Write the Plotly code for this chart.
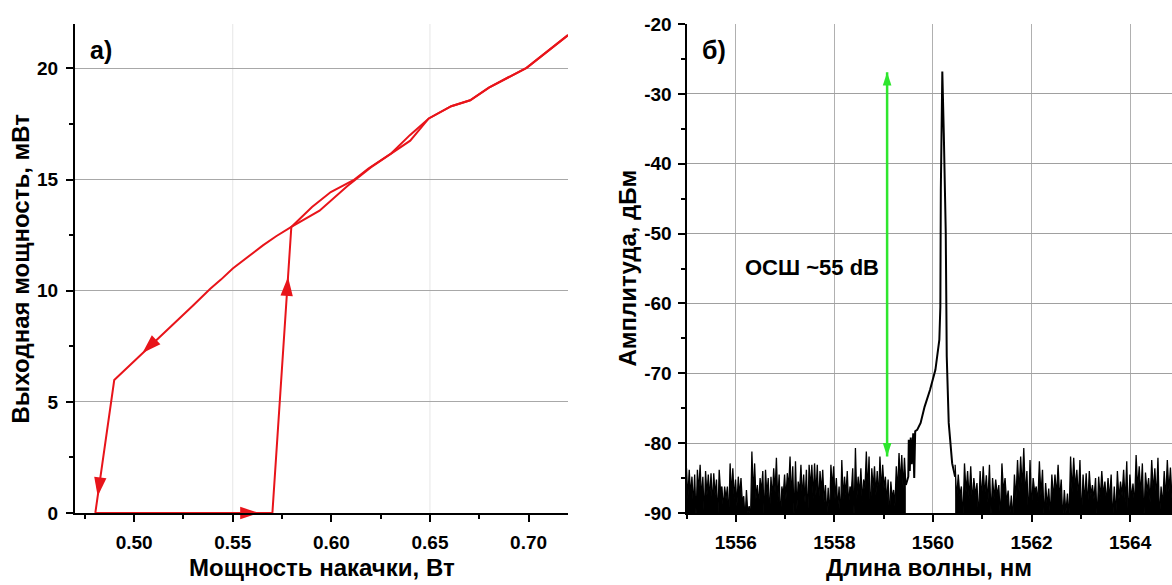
import plotly.graph_objects as go

W, H = 1172, 585

# ---------------- Panel a) : hysteresis ----------------
pump_fwd = [0.4803, 0.5701, 0.5797, 0.5902, 0.5997, 0.6112, 0.6188, 0.6303, 0.6398,
            0.6494, 0.6608, 0.6704, 0.6799, 0.6990, 0.7200]
out_fwd = [0.0, 0.0, 12.87, 13.77, 14.44, 14.97, 15.50, 16.17, 17.00,
           17.75, 18.30, 18.57, 19.14, 20.03, 21.50]

pump_ret = [0.7200, 0.6990, 0.6799, 0.6704, 0.6608, 0.6494, 0.6400, 0.6310, 0.6200,
            0.6080, 0.5940, 0.5797, 0.5720, 0.5653, 0.5580, 0.5500, 0.5440, 0.5386,
            0.5300, 0.5200, 0.5099, 0.5020, 0.4899, 0.4803]
out_ret = [21.50, 20.03, 19.14, 18.57, 18.30, 17.75, 16.75, 16.20, 15.55,
           14.70, 13.60, 12.87, 12.45, 12.04, 11.55, 11.00, 10.50, 10.09,
           9.35, 8.50, 7.66, 7.00, 5.98, 0.0]

arrow_x = [0.5634, 0.5780, 0.5042, 0.4815]
arrow_y = [0.0, 10.62, 7.20, 0.75]
arrow_angle = [90, 4, 226, 188]

y1_ticks = [0, 5, 10, 15, 20]
y1_labels = ["0", "5", "10", "15", "20"]

# ---------------- Panel б) : spectrum ----------------
noise_left_range = [1555.0, 1559.45]
noise_left_high = [-83.6, -83.8, -84.8, -84.5, -83.8, -83.1, -84.8, -84.0, -84.5, -84.3,
                   -84.3, -85.2, -83.8, -86.2, -86.2, -86.2, -82.9, -83.6, -85.2, -84.8,
                   -85.0, -87.6, -86.7, -89.0, -81.2, -82.9, -86.0, -85.0, -84.0, -83.8,
                   -85.0, -84.8, -83.6, -82.1, -84.5, -86.2, -84.5, -84.3, -81.9, -83.3,
                   -82.6, -85.5, -83.1, -84.5, -83.8, -83.1, -83.1, -82.9, -83.1, -84.0,
                   -83.8, -86.0, -86.4, -83.1, -83.3, -85.0, -86.2, -82.4, -84.8, -84.0,
                   -86.2, -83.6, -80.7, -84.8, -83.6, -85.2, -81.2, -81.9, -83.6, -83.3,
                   -84.0, -81.9, -83.1, -84.8, -85.2, -85.5, -86.7, -83.3, -81.4, -81.7,
                   -82.1]
noise_left_low = [-88.0, -87.5, -89.0, -91.0, -87.0, -88.0, -90.5, -87.5, -88.0, -89.0,
                  -87.5, -91.0, -87.0, -89.5, -88.0, -91.0, -87.5, -88.0, -89.0, -87.5,
                  -88.5, -91.0, -90.0, -91.0, -87.5, -88.0, -89.0, -87.0, -91.0, -87.5,
                  -90.5, -88.0, -87.0, -88.5, -91.0, -87.5, -88.0, -86.5, -88.0, -91.0,
                  -89.5, -87.0, -88.0, -88.5, -91.0, -86.5, -88.0, -87.5, -89.0, -87.0,
                  -88.5, -90.5, -91.0, -86.5, -88.0, -89.5, -91.0, -88.0, -87.5, -89.0,
                  -87.0, -91.0, -88.0, -87.5, -88.5, -86.5, -87.0, -91.0, -86.5, -87.5,
                  -88.0, -87.0, -86.5, -88.5, -91.0, -88.0, -89.0, -87.0, -86.0, -86.5,
                  -86.0]

peak_wl = [1559.45, 1559.50, 1559.51, 1559.53, 1559.55, 1559.57, 1559.60, 1559.62, 1559.64,
           1559.68, 1559.75, 1559.83, 1559.94, 1560.05, 1560.13, 1560.15, 1560.16, 1560.19,
           1560.22, 1560.26, 1560.28, 1560.32, 1560.39, 1560.45]
peak_db = [-86.0, -84.8, -79.5, -84.0, -79.2, -83.0, -78.6, -85.0, -78.3,
           -78.1, -77.1, -74.8, -72.4, -69.5, -65.2, -60.5, -43.7, -26.8,
           -35.6, -49.9, -67.6, -77.1, -82.9, -84.8]

noise_right_range = [1560.45, 1564.85]
noise_right_high = [-83.1, -84.5, -86.2, -82.9, -84.0, -83.3, -85.0, -85.7, -84.0, -83.3,
                    -84.6, -83.1, -85.0, -85.2, -86.0, -82.9, -85.0, -86.8, -87.5, -84.5,
                    -82.4, -81.9, -80.7, -84.0, -82.4, -85.0, -86.2, -82.6, -83.8, -85.7,
                    -86.5, -84.5, -84.5, -83.1, -85.2, -86.7, -87.2, -81.9, -82.1, -83.8,
                    -82.4, -84.5, -84.3, -84.0, -86.0, -85.0, -84.8, -84.0, -85.5, -85.0,
                    -84.5, -86.2, -84.0, -85.5, -83.8, -82.6, -84.5, -85.8, -81.7, -83.3,
                    -82.9, -84.2, -85.0, -82.4, -83.6, -82.1, -86.2, -84.0, -82.4, -83.5]
noise_right_low = [-88.0, -87.5, -91.0, -87.0, -88.0, -88.5, -87.5, -91.0, -88.0, -87.5,
                   -88.5, -90.5, -88.0, -87.5, -91.0, -87.0, -88.5, -90.5, -91.0, -88.0,
                   -87.0, -86.5, -87.5, -91.0, -89.5, -87.0, -88.5, -87.5, -91.0, -89.0,
                   -90.5, -88.0, -87.5, -88.0, -91.0, -90.0, -91.0, -87.0, -86.5, -88.0,
                   -91.0, -88.5, -89.0, -87.5, -88.0, -91.0, -88.0, -87.5, -88.5, -88.0,
                   -91.0, -90.5, -88.0, -87.5, -88.5, -91.0, -88.0, -89.0, -86.5, -87.5,
                   -91.0, -87.0, -88.5, -87.0, -88.0, -91.0, -89.0, -88.0, -87.0, -88.0]

y2_ticks = [-90, -80, -70, -60, -50, -40, -30, -20]
y2_labels = ["-90", "-80", "-70", "-60", "-50", "-40", "-30", "-20"]

snr_x = [1559.07, 1559.07]
snr_y = [-81.9, -26.9]
snr_label = "ОСШ ~55 dB"

# ---------------- styling ----------------
RED = "#e8141a"
GREEN = "#2ee62e"
FONT = "Liberation Sans"


def spikes(highs, lows, rng):
    ys = []
    for h, l in zip(highs, lows):
        ys += [h, l]
    n = len(ys)
    xs = [rng[0] + (rng[1] - rng[0]) * i / (n - 1) for i in range(n)]
    return xs, ys


fig = go.Figure()

# panel a
fig.add_trace(go.Scatter(x=pump_fwd, y=out_fwd, mode="lines",
                         line=dict(color=RED, width=2), xaxis="x", yaxis="y"))
fig.add_trace(go.Scatter(x=pump_ret, y=out_ret, mode="lines",
                         line=dict(color=RED, width=2), xaxis="x", yaxis="y"))
fig.add_trace(go.Scatter(x=arrow_x, y=arrow_y, mode="markers", cliponaxis=False,
                         marker=dict(symbol="arrow", size=20, color=RED, angle=arrow_angle,
                                     line=dict(width=0)),
                         xaxis="x", yaxis="y"))

# panel b
for highs, lows, rng in [(noise_left_high, noise_left_low, noise_left_range),
                         (noise_right_high, noise_right_low, noise_right_range)]:
    xs, ys = spikes(highs, lows, rng)
    fig.add_trace(go.Scatter(x=[rng[0], rng[1]], y=[-95, -95], mode="lines",
                             line=dict(width=0, color="black"), xaxis="x2", yaxis="y2"))
    fig.add_trace(go.Scatter(x=xs, y=ys, mode="lines", fill="tonexty", fillcolor="black",
                             line=dict(color="black", width=1.3), xaxis="x2", yaxis="y2"))

fig.add_trace(go.Scatter(x=peak_wl, y=peak_db, mode="lines",
                         line=dict(color="black", width=2), xaxis="x2", yaxis="y2"))

fig.add_trace(go.Scatter(x=snr_x, y=snr_y, mode="lines+markers",
                         line=dict(color=GREEN, width=2.5),
                         marker=dict(symbol="arrow", size=14, color=GREEN, angle=[180, 0],
                                     line=dict(width=0)),
                         xaxis="x2", yaxis="y2"))

tickfont = dict(family=FONT, size=19, color="black", weight="bold")

common = dict(showline=True, linecolor="black", linewidth=2, ticks="outside",
              tickcolor="black", tickwidth=1.5, ticklen=7, tickfont=tickfont,
              zeroline=False, mirror=False, automargin=False)

x1 = (75 / W, 568 / W)
x2 = (686.5 / W, 1.0)
ydom = ((585 - 513) / H, (585 - 24) / H)

fig.update_layout(
    width=W, height=H, margin=dict(l=0, r=0, t=0, b=0, pad=0, autoexpand=False),
    paper_bgcolor="white", plot_bgcolor="white", showlegend=False,
    xaxis=dict(domain=list(x1), range=[0.47, 0.72], dtick=0.05, tick0=0.5, tickformat=".2f",
               showgrid=False, anchor="y",
               minor=dict(ticks="outside", ticklen=4, dtick=0.025, tick0=0.475,
                          tickcolor="black", showgrid=False),
               ticklabelstandoff=4, **common),
    yaxis=dict(domain=list(ydom), range=[0, 22], tickmode="array", tickvals=y1_ticks,
               ticktext=y1_labels, showgrid=True, gridcolor="#a8a8a8",
               gridwidth=1, anchor="x",
               minor=dict(ticks="outside", ticklen=4, dtick=2.5, tickcolor="black", showgrid=False),
               ticklabelstandoff=4, **common),
    xaxis2=dict(domain=list(x2), range=[1555, 1564.85], dtick=2, tick0=1556, showgrid=True,
                gridcolor="#b0b0b0", gridwidth=1, anchor="y2",
                minor=dict(ticks="outside", ticklen=4, dtick=1, tickcolor="black", showgrid=False),
                ticklabelstandoff=4, **common),
    yaxis2=dict(domain=list(ydom), range=[-90, -20], tickmode="array", tickvals=y2_ticks,
                ticktext=y2_labels, showgrid=True,
                gridcolor="#a0a0a0", gridwidth=1, anchor="x2",
                minor=dict(ticks="outside", ticklen=4, dtick=5, tickcolor="black", showgrid=False),
                ticklabelstandoff=2, **common),
)

# light vertical grid lines in panel a
for xv in [0.55, 0.65]:
    fig.add_shape(type="line", xref="x", yref="y domain", x0=xv, x1=xv, y0=0, y1=1,
                  line=dict(color="#e6e6e6", width=1), layer="below")

title_font = dict(family=FONT, size=24, color="black", weight="bold")
ann = [
    dict(text="Мощность накачки, Вт", x=(x1[0] + x1[1]) / 2, y=(585 - 567) / H),
    dict(text="Длина волны, нм", x=(x2[0] + x2[1]) / 2, y=(585 - 567) / H),
    dict(text="Выходная мощность, мВт", x=20 / W, y=(ydom[0] + ydom[1]) / 2, textangle=-90),
    dict(text="Амплитуда, дБм", x=627 / W, y=(ydom[0] + ydom[1]) / 2, textangle=-90),
]
for a in ann:
    fig.add_annotation(xref="paper", yref="paper", showarrow=False, xanchor="center",
                       yanchor="middle", font=title_font, **a)

panel_font = dict(family=FONT, size=25, color="black", weight="bold")
fig.add_annotation(text="а)", xref="paper", yref="paper", x=101 / W, y=(585 - 50) / H,
                   showarrow=False, xanchor="center", yanchor="middle", font=panel_font)
fig.add_annotation(text="б)", xref="paper", yref="paper", x=714 / W, y=(585 - 50) / H,
                   showarrow=False, xanchor="center", yanchor="middle", font=panel_font)

fig.add_annotation(text=snr_label, xref="x2", yref="y2", x=1557.55, y=-54.8,
                   showarrow=False, xanchor="center", yanchor="middle",
                   font=dict(family=FONT, size=22, color="black", weight="bold"))

fig.write_html("out.html")
